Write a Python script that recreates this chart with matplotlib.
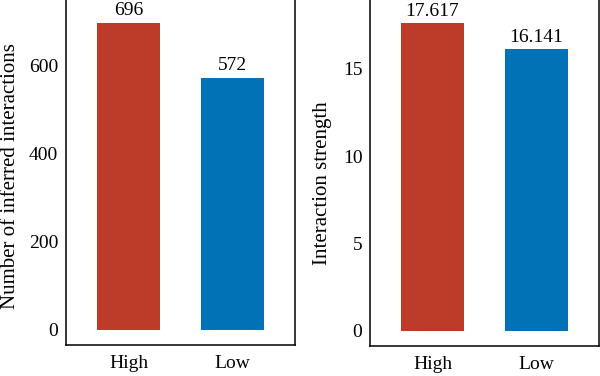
import matplotlib
matplotlib.use("Agg")
import matplotlib.pyplot as plt

plt.rcParams['font.family'] = ['Liberation Serif', 'DejaVu Serif']
plt.rcParams['font.size'] = 14

groups = ["High", "Low"]
counts = [696, 572]
strength = [17.617, 16.141]
count_labels = ["696", "572"]
strength_labels = ["17.617", "16.141"]
colors = ["#BC3C29", "#0072B5"]

W, H = 600, 376
fig = plt.figure(figsize=(W / 100, H / 100), dpi=100)


def px_axes(left, right, bottom, height):
    # pixel box (image coords, y down) -> figure fraction
    return fig.add_axes([left / W, (H - bottom) / H, (right - left) / W, height / H])


# left panel: 0.4407 px per unit, ylim (-34.8, 800)
ax1 = px_axes(66, 295, 345, 834.8 * 0.4407)
# right panel: 17.45 px per unit, ylim (-0.88, 20)
ax2 = px_axes(370, 599, 346, 20.88 * 17.45)

panels = [
    (ax1, counts, count_labels, (-34.8, 800), [0, 200, 400, 600],
     "Number of inferred interactions", (-0.2, 0.459)),
    (ax2, strength, strength_labels, (-0.88, 20), [0, 5, 10, 15],
     "Interaction strength", (-0.166, 0.448)),
]

x = [1, 2]
for ax, vals, labs, ylim, yticks, ylabel, lab_xy in panels:
    ax.bar(x, vals, width=0.6, color=colors)
    for xi, v, t in zip(x, vals, labs):
        ax.annotate(t, (xi, v), xytext=(0, 2.5), textcoords="offset points",
                    ha="center", va="bottom", fontsize=14)
    ax.set_xlim(0.4, 2.6)
    ax.set_ylim(*ylim)
    ax.set_xticks(x)
    ax.set_xticklabels(groups)
    ax.set_yticks(yticks)
    ax.tick_params(length=0)
    ax.tick_params(axis="y", pad=5.5)
    ax.tick_params(axis="x", pad=7)
    ax.set_ylabel(ylabel, fontsize=15)
    ax.yaxis.set_label_coords(*lab_xy)
    for s in ax.spines.values():
        s.set_linewidth(1.1)

fig.savefig("out.png", dpi=100)
